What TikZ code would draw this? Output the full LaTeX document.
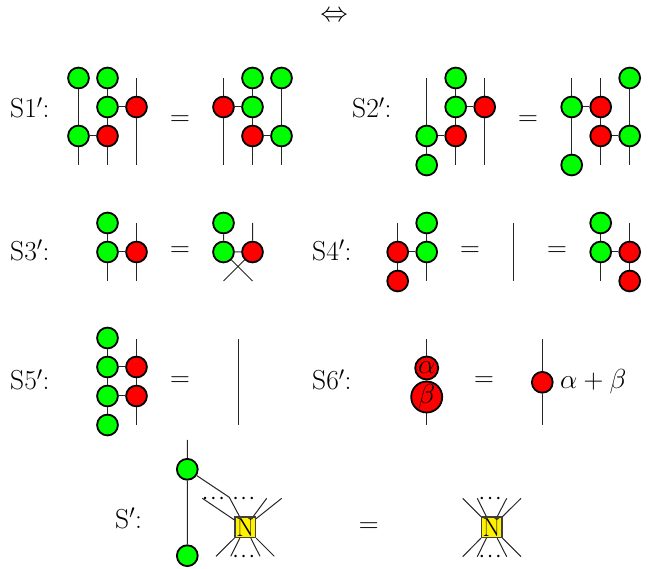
\documentclass[tikz,border=0pt]{standalone}
\usepackage{fix-cm}
\usepackage{amsmath,amssymb}
\usetikzlibrary{positioning}

\begin{document}
\begin{tikzpicture}[x=1pt,y=-1pt,on grid,node distance=29pt,font=\fontsize{27.5}{32}\selectfont,
  gn/.style={circle,draw,line width=1.8pt,fill=green,minimum size=20.8pt,inner sep=0pt},
  rn/.style={circle,draw,line width=1.8pt,fill=red,minimum size=20.8pt,inner sep=0pt},
  nbox/.style={rectangle,draw=black!75,line width=1.2pt,fill=yellow,minimum size=20.5pt,inner sep=0pt,font=\fontsize{26}{30}\selectfont},
  txt/.style={anchor=base west,inner sep=0pt},
  eq/.style={anchor=base,inner sep=0pt},
  dotn/.style={anchor=base,inner sep=0pt,font=\fontsize{16}{18}\selectfont\boldmath},
  wire/.style={line width=1pt,black!85}]
\useasboundingbox (0,0) rectangle (662,569);
\node[eq] (iff) at (334,22) {$\Leftrightarrow$};

% S1'
\node[txt] (l1) at (10,118) {S1$'$:};
\node[gn] (a1) at (78.5,78) {};
\node[gn,right=of a1] (a2) {};
\node[gn,below=of a2] (a3) {};
\node[rn,right=of a3] (a4) {};
\node[rn,below=of a3] (a6) {};
\node[gn,left=of a6] (a5) {};
\coordinate[above=of a4] (a4t);
\coordinate[below=58pt of a4] (a4b);
\coordinate[below=of a5] (a5b);
\coordinate[below=of a6] (a6b);
\draw[wire] (a1)--(a5) (a2)--(a3) (a3)--(a4) (a3)--(a6) (a5)--(a6) (a5)--(a5b) (a6)--(a6b) (a4t)--(a4) (a4)--(a4b);
\node[eq] (e1) at (180,126) {$=$};
\node[rn] (b1) at (223.5,107) {};
\node[gn,right=of b1] (b2) {};
\node[gn,above=of b2] (b3) {};
\node[gn,right=of b3] (b4) {};
\node[rn,below=of b2] (b5) {};
\node[gn,right=of b5] (b6) {};
\coordinate[above=of b1] (b1t);
\coordinate[below=58pt of b1] (b1b);
\coordinate[below=of b5] (b5b);
\coordinate[below=of b6] (b6b);
\draw[wire] (b1t)--(b1) (b1)--(b1b) (b1)--(b2) (b3)--(b2) (b2)--(b5) (b5)--(b6) (b4)--(b6) (b5)--(b5b) (b6)--(b6b);

% S2'
\node[txt] (l2) at (352,118) {S2$'$:};
\node[gn] (c1) at (455.7,78) {};
\node[gn,below=of c1] (c2) {};
\node[rn,right=of c2] (c3) {};
\node[rn,below=of c2] (c4) {};
\node[gn,left=of c4] (c5) {};
\node[gn,below=of c5] (c6) {};
\coordinate[above=58pt of c5] (c5t);
\coordinate[below=of c4] (c4b);
\coordinate[above=of c3] (c3t);
\coordinate[below=58pt of c3] (c3b);
\draw[wire] (c5t)--(c5) (c1)--(c2) (c2)--(c3) (c2)--(c4) (c5)--(c4) (c5)--(c6) (c4)--(c4b) (c3t)--(c3) (c3)--(c3b);
\node[eq] (e2) at (528,126) {$=$};
\node[gn] (d1) at (571.7,107) {};
\node[rn,right=of d1] (d2) {};
\node[rn,below=of d2] (d3) {};
\node[gn,right=of d3] (d4) {};
\node[gn,above=58pt of d4] (d5) {};
\node[gn,below=58pt of d1] (d6) {};
\coordinate[above=of d1] (d1t);
\coordinate[above=of d2] (d2t);
\coordinate[below=of d3] (d3b);
\coordinate[below=of d4] (d4b);
\draw[wire] (d1t)--(d1) (d2t)--(d2) (d1)--(d2) (d2)--(d3) (d3)--(d4) (d3)--(d3b) (d4)--(d4b) (d5)--(d4) (d1)--(d6);

% S3'
\node[txt] (l3) at (10,260.5) {S3$'$:};
\node[gn] (f1) at (107.5,223) {};
\node[gn,below=of f1] (f2) {};
\node[rn,right=of f2] (f3) {};
\coordinate[above=of f3] (f3t);
\coordinate[below=of f3] (f3b);
\coordinate[below=of f2] (f2b);
\draw[wire] (f1)--(f2) (f2)--(f3) (f3t)--(f3) (f3)--(f3b) (f2)--(f2b);
\node[eq] (e3) at (180,257) {$=$};
\node[gn] (h1) at (223.5,223) {};
\node[gn,below=of h1] (h2) {};
\node[rn,right=of h2] (h3) {};
\coordinate[above=of h3] (h3t);
\coordinate[below=of h3] (h3b);
\coordinate[below=of h2] (h2b);
\draw[wire] (h1)--(h2) (h2)--(h3) (h3t)--(h3) (h2)--(h3b) (h3)--(h2b);

% S4'
\node[txt] (l4) at (312,260.5) {S4$'$:};
\node[gn] (k1) at (426.7,223) {};
\node[gn,below=of k1] (k2) {};
\node[rn,left=of k2] (k3) {};
\node[rn,below=of k3] (k4) {};
\coordinate[above=of k3] (k3t);
\coordinate[below=of k2] (k2b);
\draw[wire] (k1)--(k2) (k3)--(k2) (k3t)--(k3) (k3)--(k4) (k2)--(k2b);
\node[eq] (e4) at (470,257) {$=$};
\coordinate (w1t) at (513.3,223);
\coordinate[below=58pt of w1t] (w1b);
\draw[wire] (w1t)--(w1b);
\node[eq] (e5) at (557,257) {$=$};
\node[gn] (m1) at (600.7,223) {};
\node[gn,below=of m1] (m2) {};
\node[rn,right=of m2] (m3) {};
\node[rn,below=of m3] (m4) {};
\coordinate[above=of m3] (m3t);
\coordinate[below=of m2] (m2b);
\draw[wire] (m1)--(m2) (m2)--(m3) (m3t)--(m3) (m3)--(m4) (m2)--(m2b);

% S5'
\node[txt] (l5) at (10,390) {S5$'$:};
\node[gn] (p1) at (107.5,338) {};
\node[gn,below=of p1] (p2) {};
\node[rn,right=of p2] (p3) {};
\node[gn,below=of p2] (p4) {};
\node[rn,right=of p4] (p5) {};
\node[gn,below=of p4] (p6) {};
\coordinate[above=28pt of p3] (p3t);
\coordinate[below=29.5pt of p5] (p5b);
\draw[wire] (p1)--(p2) (p2)--(p3) (p2)--(p4) (p3t)--(p3) (p3)--(p5) (p4)--(p5) (p4)--(p6) (p5)--(p5b);
\node[eq] (e6) at (180,387) {$=$};
\coordinate (w2t) at (238,339);
\coordinate[below=86.5pt of w2t] (w2b);
\draw[wire] (w2t)--(w2b);

% S6'
\node[txt] (l6) at (312,390) {S6$'$:};
\node[rn,minimum size=23pt] (q1) at (426.7,368) {$\alpha$};
\node[rn,minimum size=31pt] (q2) at (426.7,397) {$\beta$};
\coordinate (q1t) at (426.7,339);
\coordinate[below=86.5pt of q1t] (q2b);
\draw[wire] (q1t)--(q1) (q2)--(q2b);
\node[eq] (e7) at (484,387) {$=$};
\node[rn] (r1) at (542.3,382.3) {};
\coordinate (r1t) at (542.3,339);
\coordinate[below=86.5pt of r1t] (r1b);
\draw[wire] (r1t)--(r1) (r1)--(r1b);
\node[txt] (r1l) at (560,389) {$\alpha+\beta$};

% S'
\node[txt] (l7) at (115,528) {S$'$:};
\node[gn] (s1) at (187.3,469.3) {};
\node[gn,below=86.4pt of s1] (s2) {};
\coordinate[above=29.3pt of s1] (s1t);
\node[nbox] (n1) at (245.3,527.3) {N};
\coordinate (n1c) at (229.3,497.3);
\coordinate (n1a) at (202.3,498.3);
\coordinate (n1b) at (266.7,498.3);
\coordinate (n1d) at (281.7,498.3);
\coordinate (n1e) at (216,556.3);
\coordinate (n1f) at (230.7,556.3);
\coordinate (n1g) at (260,556.3);
\coordinate (n1h) at (274.3,556.3);
\draw[wire] (s1t)--(s1) (s1)--(s2) (s1)--(n1c)--(n1);
\foreach \e in {a,b,d,e,f,g,h} \draw[wire] (n1\e)--(n1);
\node[dotn] (n1u) at (215,502.3) {$\cdots$};
\node[dotn] (n1v) at (245.3,502.3) {$\cdots$};
\node[dotn] (n1w) at (245.3,560.7) {$\cdots$};
\node[eq] (e8) at (368.7,532.7) {$=$};
\node[nbox] (n2) at (491.7,527.3) {N};
\coordinate (n2a) at (462.7,498.3);
\coordinate (n2b) at (477.3,498.3);
\coordinate (n2c) at (506.7,498.3);
\coordinate (n2d) at (521,498.3);
\coordinate (n2e) at (462.7,556.7);
\coordinate (n2f) at (477.3,556.7);
\coordinate (n2g) at (506.7,556.7);
\coordinate (n2h) at (521,556.7);
\foreach \e in {a,b,c,d,e,f,g,h} \draw[wire] (n2\e)--(n2);
\node[dotn] (n2u) at (491.7,502.3) {$\cdots$};
\node[dotn] (n2w) at (491.7,560.7) {$\cdots$};
\end{tikzpicture}
\end{document}
